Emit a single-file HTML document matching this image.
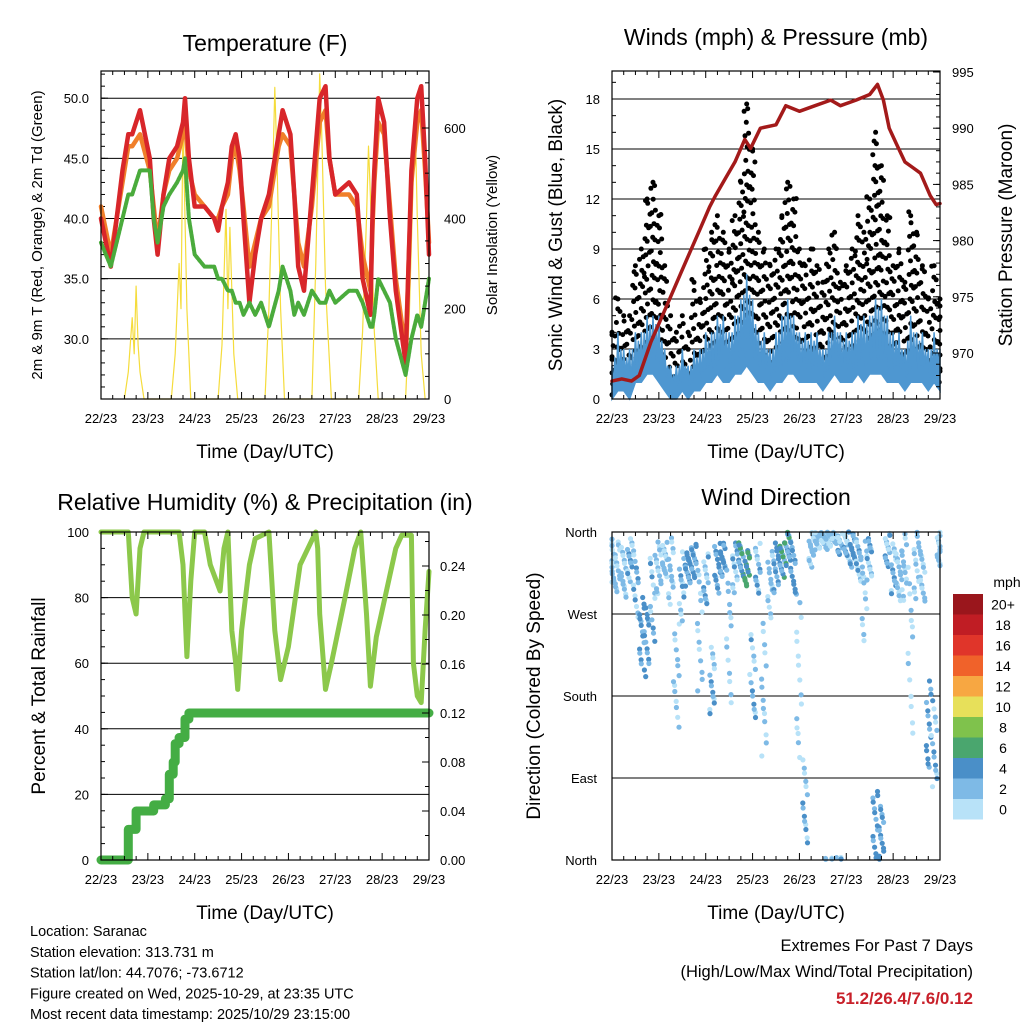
<!DOCTYPE html>
<html><head><meta charset="utf-8">
<style>
html,body{margin:0;padding:0;background:#fff;}
svg{display:block;font-family:"Liberation Sans",sans-serif;}
</style></head>
<body>
<svg id="c" width="1024" height="1024" viewBox="0 0 1024 1024"></svg>
<script>
// ---------- DATA ----------
const tempHours=[0,5,11,14,16,20,25,27,29,32,35,39,42,43,45,48,53,58,60,62,65,67,69,71,73,76,79,82,86,91,93,97,99,101,104,108,112,115,117,120,127,131,134,138,139,140,142,145,148,151,156,159,162,164,166,168];
const temp2m=[40,36,44,47,47,49,45,40,37,42,45,46,48,50,45,41,41,40,39,41,43,46,47,45,40,33,37,40,42,47,49,47,42,36,34,42,50,51,45,42,43,42,35,32,40,44,50,48,40,34,28,44,50,51,45,37];
const temp9m=[41,37,43,46,46,47,44,41,38,42,44,45,47,48,44,42,41,40,40,41,42,45,46,44,41,36,38,40,41,46,47,46,42,38,36,41,48,49,45,42,42,41,37,34,39,43,48,47,41,35,29,43,48,49,44,38];
const dewpoint=[38,36,40,42,42,44,44,40,38,41,42,43,44,45,40,37,36,36,35,35,34,34,33,33,32,33,32,33,31,34,36,34,32,33,32,34,33,33,34,33,34,34,33,31,31,32,35,34,33,30,27,30,32,31,33,35];
const solarHours=[12,14,16,17,18,19,20,22,36,38,40,41,42,43,44,46,60,62,64,65,66,68,70,84,86,88,89,90,92,94,108,110,111,112,113,115,118,132,134,136,137,138,140,142,156,158,160,161,162,164,166];
const solarVals=[0,60,180,100,250,120,60,0,0,100,300,200,620,400,200,0,0,120,420,200,380,100,0,0,200,500,690,550,200,0,0,300,500,720,600,250,0,0,150,400,560,450,150,0,0,200,500,600,400,100,0];
const dayLabels=["22/23","23/23","24/23","25/23","26/23","27/23","28/23","29/23"];
const tempTicks=[30,35,40,45,50];
const solarTicks=[0,200,400,600];
const windTicks=[0,3,6,9,12,15,18];
const presTicks=[970,975,980,985,990,995];
const windHours3=[0,3,6,9,12,15,18,21,24,27,30,33,36,39,42,45,48,51,54,57,60,63,66,69,72,75,78,81,84,87,90,93,96,99,102,105,108,111,114,117,120,123,126,129,132,135,138,141,144,147,150,153,156,159,162,165,168];
const gustHi=[4,6,5,5,8,9,12,13,11,8,5,4,5,4,7,6,9,10,11,10,9,11,13,17.7,15,10,9,8,9,11,13,12,9,8,9,8,7,9,10,7,8,9,11,10,12,16,14,11,8,9,7,11,10,8,6,8,6];
const gustLo=[0.5,1,1,1,2,2,3,3,2,1,1,1,1,1,2,2,2,3,3,2,2,3,3,4,3,2,2,2,2,3,3,3,2,2,2,2,2,2,3,2,2,2,3,2,3,3,3,2,2,2,2,2,2,2,1,2,1];
const windHi=[2,4,3,3,4,4,5,5,5,3,2,2,3,2,3,3,4,4,5,5,4,5,6,7.5,6,4,4,3,4,5,6,5,4,4,4,4,3,4,5,4,4,4,5,5,5,6,6,5,4,4,3,5,4,4,3,4,3];
const windLo=[0,0.5,0.5,0,1,1,1.5,1.5,1,0.5,0,0,0.5,0,0.5,0.5,1,1,1.5,1,1,1.5,1.5,2,1.5,1,1,0.5,1,1,1.5,1.5,1,1,1,1,0.5,1,1.5,1,1,1,1.5,1,1.5,1.5,1.5,1,1,1,0.5,1,1,1,0.5,1,0.5];
const presHours=[0,5,10,14,20,25,30,35,40,45,50,53,58,63,68,71,76,84,89,96,104,112,117,125,132,136,139,142,146,150,154,158,163,166,168];
const presVals=[967.5,967.7,967.5,968,971,973,975,977,979,981,983,984,985.5,987,989,988.2,990,990.3,992,991.5,992,992.5,992,992.5,993,993.9,992.5,990,988.5,987,986.5,986,984,983.2,983.3];
const rhHours=[0,14,16,18,20,22,40,42,44,46,48,53,56,61,63,65,67,69,70,72,76,79,86,89,92,96,102,110,111,112,115,118,125,130,133,136,138,141,151,154,159,160,162,164,166,168];
const rhVals=[100,100,80,75,95,100,100,90,62,85,100,100,90,82,95,100,70,60,52,70,90,98,100,70,55,65,90,100,95,75,52,60,80,95,100,75,53,68,95,99,99,60,50,48,70,88];
const precipHours=[0,13,14,16,18,20,25,27,30,33,35,37,38,40,43,45,168];
const precipVals=[0,0,0.025,0.025,0.04,0.04,0.04,0.045,0.045,0.05,0.07,0.08,0.095,0.1,0.115,0.12,0.12];
const rhTicks=[0,20,40,60,80,100];
const precipTicks=[0,0.04,0.08,0.12,0.16,0.2,0.24];
const dirDeg=[330,320,315,330,300,250,240,290,320,330,320,200,300,320,330,250,310,200,320,330,250,320,330,320,200,320,180,300,320,330,340,320,200,60,340,350,355,350,355,350,345,340,330,300,330,40,30,340,320,310,320,230,320,310,150,130,340];
const dirSpread=[25,30,30,25,40,40,40,50,30,20,40,60,40,20,20,70,30,40,30,20,80,30,20,20,50,30,80,40,30,20,20,30,90,50,20,10,8,10,8,15,15,20,25,60,25,40,30,20,30,30,40,100,40,30,50,50,20];
const dirSpeed=[2,2,2,3,3,4,4,3,2,2,2,2,3,4,4,2,3,3,4,4,2,3,5,6,3,3,2,2,4,5,5,4,1,3,2,2,2,2,2,3,3,4,3,2,3,4,4,3,3,2,2,1,2,2,4,3,2];
const dirTicks=[{v:360,l:"North"},{v:270,l:"West"},{v:180,l:"South"},{v:90,l:"East"},{v:0,l:"North"}];
const speedLabels=["20+","18","16","14","12","10","8","6","4","2","0"];
const speedColors=["#9a161c","#c01d24","#e0352a","#f0622a","#f7a742","#e7e05a","#7fc24c","#4aa66e","#4a8fc8","#7ebae6","#b8e2f8"];

// ---------- HELPERS ----------
const NS="http://www.w3.org/2000/svg";
const svg=document.getElementById('c');
function mk(tag,attrs,parent){const e=document.createElementNS(NS,tag);for(const k in attrs)e.setAttribute(k,attrs[k]);(parent||svg).appendChild(e);return e;}
function txt(s,x,y,size,anchor,parent,extra){const e=mk('text',Object.assign({x:x,y:y,'font-size':size,'text-anchor':anchor||'start',fill:'#000'},extra||{}),parent);e.textContent=s;return e;}
function lin(d0,d1,p0,p1){return v=>p0+(v-d0)/(d1-d0)*(p1-p0);}
function frac(v){return v-Math.floor(v);}

function panel(name){
  const g=mk('g',{});
  
  
  return g;
}
function frame(g,x0,y0,x1,y1){
  const r=mk('rect',{x:x0,y:y0,width:x1-x0,height:y1-y0,fill:'none',stroke:'#000','stroke-width':1.2},g);
  
  
}
function xAxis(g,X,y0,y1){
  const ax=mk('g',{},g);
  
  
  for(let d=0;d<=7;d++){
    const x=X(d*24);
    mk('line',{x1:x,y1:y1,x2:x,y2:y1-7,stroke:'#000','stroke-width':1},ax);
    mk('line',{x1:x,y1:y0,x2:x,y2:y0+7,stroke:'#000','stroke-width':1},ax);
    const t=txt(dayLabels[d],x,y1+24,13,'middle',ax);
    
    
    if(d<7){for(let h=6;h<24;h+=6){const xm=X(d*24+h);mk('line',{x1:xm,y1:y1,x2:xm,y2:y1-4,stroke:'#000'},ax);mk('line',{x1:xm,y1:y0,x2:xm,y2:y0+4,stroke:'#000'},ax);}}
  }
  const t=txt('Time (Day/UTC)',(X(0)+X(168))/2,y1+59,19,'middle',ax);
  
  
}
function yAxisLeft(g,Y,ticks,fmt,x0,x1,grid,minorStep,dmin,dmax){
  const ax=mk('g',{},g);
  
  
  ticks.forEach(v=>{const y=Y(v);
    if(grid)mk('line',{x1:x0,y1:y,x2:x1,y2:y,stroke:'#000','stroke-width':1},ax);
    mk('line',{x1:x0,y1:y,x2:x0+7,y2:y,stroke:'#000'},ax);
    const t=txt(fmt(v),x0-12,y+5,13,'end',ax);
    
    
  });
  if(minorStep){for(let v=Math.ceil(dmin/minorStep)*minorStep;v<=dmax;v+=minorStep){const y=Y(v);mk('line',{x1:x0,y1:y,x2:x0+4,y2:y,stroke:'#000'},ax);}}
}
function yAxisRight(g,Y,ticks,fmt,x1,minorStep,dmin,dmax,size,dx){
  const ax=mk('g',{},g);
  
  
  ticks.forEach(v=>{const y=Y(v);
    mk('line',{x1:x1,y1:y,x2:x1-7,y2:y,stroke:'#000'},ax);
    const t=txt(fmt(v),x1+(dx||12),y+5,size||13,'start',ax);
    
    
  });
  if(minorStep){for(let v=Math.ceil(dmin/minorStep)*minorStep;v<=dmax;v+=minorStep){const y=Y(v);mk('line',{x1:x1,y1:y,x2:x1-4,y2:y,stroke:'#000'},ax);}}
}
function vtitle(g,s,x,y,size,name){
  const t=txt(s,x,y,size,'middle',g,{transform:`rotate(-90 ${x} ${y})`});
  
  
}
function title(g,s,x,y,name){
  const t=txt(s,x,y,23,'middle',g);
  
  
}
function poly(g,xs,ys,X,Y,color,w,name){
  const pts=xs.map((t,i)=>X(t).toFixed(1)+','+Y(ys[i]).toFixed(1)).join(' ');
  const p=mk('polyline',{points:pts,fill:'none',stroke:color,'stroke-width':w,'stroke-linejoin':'round','stroke-linecap':'round'},g);
  
  
  return p;
}
function speedColor(s){let i=Math.floor(s/2);if(i>10)i=10;if(i<0)i=0;return speedColors[10-i];}

// ---------- PANEL 1: TEMPERATURE ----------
(function(){
  const x0=101,x1=429,y0=71,y1=399;
  const g=panel('temperature-panel');
  const X=lin(0,168,x0,x1);
  const Y=lin(25,50,y1,98.2);
  const YS=lin(0,600,y1,128);
  yAxisLeft(g,Y,tempTicks,v=>v.toFixed(1),x0,x1,true,1,25.5,52);
  poly(g,solarHours,solarVals,X,YS,'#f5dc3c',1.2,'solar-insolation-line');
  poly(g,tempHours,temp9m,X,Y,'#f07f2a',4.5,'temp-9m-line');
  poly(g,tempHours,temp2m,X,Y,'#d8262a',4.5,'temp-2m-line');
  poly(g,tempHours,dewpoint,X,Y,'#4aab3c',4,'dewpoint-line').setAttribute('stroke-dasharray','3 1.5');
  frame(g,x0,y0,x1,y1);
  yAxisRight(g,YS,solarTicks,v=>String(v),x1,50,0,720,13,15);
  xAxis(g,X,y0,y1);
  title(g,'Temperature (F)',265,51,'temperature-title');
  vtitle(g,'2m & 9m T (Red, Orange) & 2m Td (Green)',42,235,15,'temperature-y-title');
  vtitle(g,'Solar Insolation (Yellow)',497,235,15,'solar-y-title');
})();

// ---------- PANEL 2: WINDS ----------
(function(){
  const x0=612,x1=940,y0=71,y1=399;
  const g=panel('winds-panel');
  const X=lin(0,168,x0,x1);
  const Y=lin(0,18,y1,99);
  const YP=lin(970,995,353,72);
  yAxisLeft(g,Y,windTicks,v=>String(v),x0,x1,true,1,0,19.6);
  const dg=mk('g',{},g);
  
  
  windHours3.forEach((t,i)=>{
    let k=0;
    for(let v=gustLo[i];v<=gustHi[i]+0.01;v+=0.45){
      const tt=Math.max(0,Math.min(168,t+(frac(k*0.6180339+i*0.31)*3-1.5)));
      const vv=v+(frac(k*0.4142+i*0.17)-0.5)*0.5;
      mk('circle',{cx:X(tt).toFixed(1),cy:Y(Math.max(0,vv)).toFixed(1),r:2.5,fill:'#000'},dg);k++;
    }
    mk('circle',{cx:X(t).toFixed(1),cy:Y(gustHi[i]).toFixed(1),r:2.5,fill:'#000'},dg);
  });
  let up=[],dn=[];
  windHours3.forEach((t,i)=>{
    up.push(X(t).toFixed(1)+','+Y(windHi[i]).toFixed(1));
    if(i<windHours3.length-1){
      up.push(X(t+0.75).toFixed(1)+','+Y(windLo[i]+0.8).toFixed(1));
      up.push(X(t+1.5).toFixed(1)+','+Y((windHi[i]+windHi[i+1])/2-0.5).toFixed(1));
      up.push(X(t+2.25).toFixed(1)+','+Y(windLo[i]+1).toFixed(1));
    }
    dn.unshift(X(t).toFixed(1)+','+Y(windLo[i]).toFixed(1));
  });
  const wa=mk('polygon',{points:up.concat(dn).join(' '),fill:'#4e97d1',stroke:'#4e97d1','stroke-width':1.5},g);
  
  
  poly(g,presHours,presVals,X,YP,'#a31a1a',3.5,'pressure-line');
  frame(g,x0,y0,x1,y1);
  yAxisRight(g,YP,presTicks,v=>String(v),x1,1,967,995.5,13,12);
  xAxis(g,X,y0,y1);
  title(g,'Winds (mph) & Pressure (mb)',776,45,'winds-title');
  vtitle(g,'Sonic Wind & Gust (Blue, Black)',562,235,19,'wind-y-title');
  vtitle(g,'Station Pressure (Maroon)',1012,235,19,'pressure-y-title');
})();

// ---------- PANEL 3: RH & PRECIP ----------
(function(){
  const x0=101,x1=429,y0=532,y1=860;
  const g=panel('humidity-panel');
  const X=lin(0,168,x0,x1);
  const Y=lin(0,100,y1,y0);
  const YR=lin(0,0.24,y1,566);
  yAxisLeft(g,Y,rhTicks,v=>String(v),x0,x1,true,5,0,100);
  let pts=[];
  precipHours.forEach((t,i)=>{
    if(i>0)pts.push(X(t).toFixed(1)+','+YR(precipVals[i-1]).toFixed(1));
    pts.push(X(t).toFixed(1)+','+YR(precipVals[i]).toFixed(1));
  });
  const pp=mk('polyline',{points:pts.join(' '),fill:'none',stroke:'#44ad44','stroke-width':9,'stroke-linejoin':'round','stroke-linecap':'round'},g);
  
  
  poly(g,rhHours,rhVals,X,Y,'#8cc84b',5,'humidity-line');
  frame(g,x0,y0,x1,y1);
  yAxisRight(g,YR,precipTicks,v=>v.toFixed(2),x1,0.02,0,0.268,13,11);
  xAxis(g,X,y0,y1);
  title(g,'Relative Humidity (%) & Precipitation (in)',265,510,'humidity-title');
  vtitle(g,'Percent & Total Rainfall',45,696,19,'humidity-y-title');
})();

// ---------- PANEL 4: WIND DIRECTION ----------
(function(){
  const x0=612,x1=940,y0=532,y1=860;
  const g=panel('wind-direction-panel');
  const X=lin(0,168,x0,x1);
  const Y=lin(0,360,y1,y0);
  const ax=mk('g',{},g);
  
  
  dirTicks.forEach(d=>{const y=Y(d.v);
    mk('line',{x1:x0,y1:y,x2:x1,y2:y,stroke:'#000'},ax);
    const t=txt(d.l,x0-15,y+5,13,'end',ax);
    
    
  });
  const dg=mk('g',{},g);
  
  
  windHours3.forEach((t,i)=>{
    for(let k=0;k<14;k++){
      const f=frac(k*0.6180339+i*0.13)*2-1;
      let d=dirDeg[i]+dirSpread[i]*f;
      if(d>360)d-=360; if(d<0)d+=360;
      const tt=Math.max(0,Math.min(168,t+(frac(k*0.7548777+i*0.29)*3-1.5)));
      const s=Math.max(0,dirSpeed[i]+((k%3)-1)*1.6);
      mk('circle',{cx:X(tt).toFixed(1),cy:Y(d).toFixed(1),r:2.6,fill:speedColor(s)},dg);
    }
  });
  frame(g,x0,y0,x1,y1);
  xAxis(g,X,y0,y1);
  dirTicks.forEach(d=>{mk('line',{x1:x1,y1:Y(d.v),x2:x1-7,y2:Y(d.v),stroke:'#000'},g);});
  title(g,'Wind Direction',776,505,'wind-direction-title');
  vtitle(g,'Direction (Colored By Speed)',540,696,19,'direction-y-title');
  const cb=mk('g',{},g);
  
  
  const by0=594,bh=20.5;
  speedLabels.forEach((l,i)=>{
    const r=mk('rect',{x:953,y:by0+i*bh,width:30,height:bh,fill:speedColors[i]},cb);
    
    
    const t=txt(l,1003,by0+i*bh+bh/2+5,14,'middle',cb);
    
    
  });
  const u=txt('mph',1007,587,14,'middle',cb);
  
  
})();

// ---------- FOOTER ----------
(function(){
  const g=mk('g',{});
  
  
  const lines=["Location: Saranac","Station elevation: 313.731 m","Station lat/lon: 44.7076; -73.6712","Figure created on Wed, 2025-10-29, at 23:35 UTC","Most recent data timestamp: 2025/10/29 23:15:00"];
  lines.forEach((s,i)=>{const t=txt(s,30,936+i*20.8,14.5,'start',g);});
  const e=mk('g',{});
  
  
  let t=txt('Extremes For Past 7 Days',973,951,16.5,'end',e);
  t=txt('(High/Low/Max Wind/Total Precipitation)',973,977,16.5,'end',e);
  t=txt('51.2/26.4/7.6/0.12',973,1004,17,'end',e,{fill:'#c8202a','font-weight':'bold'});
})();
</script>
</body></html>
